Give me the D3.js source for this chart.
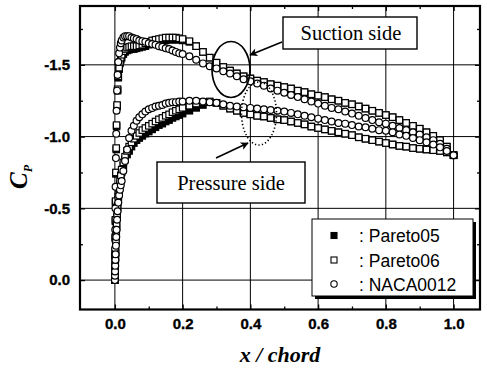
<!DOCTYPE html>
<html><head><meta charset="utf-8">
<script src="https://cdn.jsdelivr.net/npm/d3@7"></script>
<style>html,body{margin:0;padding:0;background:#fff;} svg{display:block;}
.ticklab{font-family:'Liberation Sans',Arial,sans-serif !important;font-weight:700 !important;font-size:15px !important;}</style>
</head><body><svg id="chart" width="487" height="368"></svg>
<script>
// ---------- DATA ----------
const xStations = [0, 0.0003, 0.0006, 0.001, 0.0015, 0.002, 0.003, 0.004, 0.005, 0.0065,
  0.008, 0.01, 0.0125, 0.015, 0.0175, 0.02, 0.025, 0.03, 0.036, 0.042,
  0.049, 0.056, 0.064, 0.072, 0.081, 0.09, 0.1, 0.11, 0.12, 0.13,
  0.14, 0.15, 0.16, 0.17, 0.18, 0.19, 0.2, 0.22, 0.24, 0.26,
  0.28, 0.3, 0.32, 0.34, 0.36, 0.38, 0.4, 0.42, 0.44, 0.46,
  0.48, 0.5, 0.52, 0.54, 0.56, 0.58, 0.6, 0.62, 0.64, 0.66,
  0.68, 0.7, 0.72, 0.74, 0.76, 0.78, 0.8, 0.82, 0.84, 0.86,
  0.88, 0.9, 0.92, 0.94, 0.96, 0.98, 1.0];

const pareto05Upper = [0, -0.08, -0.17, -0.29, -0.41, -0.54, -0.74, -0.91, -1.07, -1.21,
  -1.32, -1.41, -1.47, -1.51, -1.535, -1.55, -1.575, -1.59, -1.60, -1.605,
  -1.61, -1.61, -1.615, -1.62, -1.625, -1.63, -1.64, -1.65, -1.655, -1.66,
  -1.665, -1.67, -1.675, -1.675, -1.675, -1.675, -1.67, -1.66, -1.63, -1.59,
  -1.55, -1.515, -1.485, -1.46, -1.44, -1.42, -1.405, -1.39, -1.38, -1.365,
  -1.355, -1.345, -1.335, -1.32, -1.31, -1.295, -1.285, -1.275, -1.26, -1.25,
  -1.235, -1.225, -1.21, -1.195, -1.18, -1.165, -1.15, -1.135, -1.115, -1.095,
  -1.075, -1.055, -1.03, -1.005, -0.975, -0.93, -0.87];
const pareto05Lower = [0, -0.03, -0.06, -0.10, -0.15, -0.19, -0.26, -0.32, -0.37, -0.44,
  -0.50, -0.56, -0.62, -0.67, -0.71, -0.75, -0.80, -0.84, -0.875, -0.90,
  -0.93, -0.955, -0.975, -0.99, -1.005, -1.02, -1.035, -1.05, -1.065, -1.08,
  -1.09, -1.105, -1.115, -1.13, -1.14, -1.15, -1.16, -1.18, -1.20, -1.22,
  -1.24, -1.235, -1.215, -1.195, -1.18, -1.165, -1.155, -1.145, -1.14, -1.13,
  -1.12, -1.115, -1.105, -1.095, -1.085, -1.07, -1.06, -1.05, -1.04, -1.03,
  -1.02, -1.01, -0.995, -0.985, -0.975, -0.965, -0.955, -0.945, -0.935, -0.93,
  -0.92, -0.915, -0.91, -0.905, -0.90, -0.89, -0.87];

const pareto06Upper = [0, -0.08, -0.18, -0.30, -0.42, -0.55, -0.75, -0.92, -1.08, -1.22,
  -1.33, -1.42, -1.48, -1.52, -1.55, -1.57, -1.595, -1.61, -1.62, -1.625,
  -1.63, -1.63, -1.63, -1.635, -1.64, -1.65, -1.66, -1.67, -1.675, -1.68,
  -1.685, -1.69, -1.69, -1.69, -1.69, -1.685, -1.68, -1.665, -1.63, -1.59,
  -1.55, -1.515, -1.485, -1.46, -1.44, -1.42, -1.405, -1.39, -1.38, -1.365,
  -1.355, -1.345, -1.335, -1.32, -1.31, -1.295, -1.285, -1.275, -1.26, -1.25,
  -1.235, -1.225, -1.21, -1.195, -1.18, -1.165, -1.15, -1.135, -1.115, -1.095,
  -1.075, -1.055, -1.03, -1.005, -0.975, -0.93, -0.87];
const pareto06Lower = [0, -0.03, -0.07, -0.11, -0.16, -0.20, -0.27, -0.33, -0.39, -0.46,
  -0.52, -0.58, -0.64, -0.69, -0.73, -0.77, -0.82, -0.86, -0.90, -0.93,
  -0.96, -0.985, -1.005, -1.025, -1.045, -1.06, -1.075, -1.09, -1.105, -1.12,
  -1.13, -1.145, -1.155, -1.17, -1.18, -1.19, -1.20, -1.215, -1.23, -1.24,
  -1.245, -1.235, -1.215, -1.195, -1.18, -1.165, -1.155, -1.145, -1.14, -1.13,
  -1.12, -1.115, -1.105, -1.095, -1.085, -1.07, -1.06, -1.05, -1.04, -1.03,
  -1.02, -1.01, -0.995, -0.985, -0.975, -0.965, -0.955, -0.945, -0.935, -0.93,
  -0.92, -0.915, -0.91, -0.905, -0.90, -0.89, -0.87];

const naca0012Upper = [0, -0.10, -0.22, -0.35, -0.50, -0.65, -0.85, -1.02, -1.18, -1.32,
  -1.43, -1.52, -1.58, -1.62, -1.65, -1.67, -1.69, -1.70, -1.70, -1.70,
  -1.69, -1.685, -1.68, -1.67, -1.665, -1.66, -1.65, -1.645, -1.64, -1.63,
  -1.625, -1.615, -1.61, -1.60, -1.59, -1.58, -1.575, -1.56, -1.535, -1.51,
  -1.49, -1.475, -1.455, -1.44, -1.42, -1.40, -1.385, -1.37, -1.355, -1.335,
  -1.32, -1.305, -1.29, -1.275, -1.26, -1.245, -1.23, -1.215, -1.20, -1.19,
  -1.175, -1.16, -1.145, -1.13, -1.115, -1.10, -1.09, -1.075, -1.06, -1.045,
  -1.03, -1.015, -0.995, -0.975, -0.95, -0.915, -0.87];
const naca0012Lower = [0, -0.03, -0.06, -0.10, -0.14, -0.18, -0.24, -0.30, -0.35, -0.42,
  -0.48, -0.54, -0.59, -0.63, -0.66, -0.69, -0.76, -0.83, -0.91, -0.99,
  -1.04, -1.075, -1.11, -1.135, -1.155, -1.175, -1.19, -1.20, -1.21, -1.215,
  -1.22, -1.23, -1.235, -1.24, -1.24, -1.245, -1.245, -1.25, -1.25, -1.245,
  -1.24, -1.235, -1.225, -1.215, -1.21, -1.205, -1.20, -1.195, -1.19, -1.185,
  -1.18, -1.175, -1.165, -1.155, -1.145, -1.135, -1.125, -1.115, -1.105, -1.095,
  -1.09, -1.08, -1.07, -1.065, -1.055, -1.045, -1.04, -1.03, -1.015, -1.005,
  -0.99, -0.975, -0.96, -0.945, -0.925, -0.90, -0.87];

const seriesNames = ["Pareto05", "Pareto06", "NACA0012"];
const legendLabels = [": Pareto05", ": Pareto06", ": NACA0012"];
const xMajorTicks = [0, 0.2, 0.4, 0.6, 0.8, 1.0];
const xMinorTicks = [0.1, 0.3, 0.5, 0.7, 0.9];
const yMajorTicks = [0, -0.5, -1.0, -1.5];
const yMinorTicks = [-0.25, -0.75, -1.25, -1.75];
const xTitle = "x / chord";
const annotationSuction = "Suction side";
const annotationPressure = "Pressure side";

// ---------- CHART ----------
const svg = d3.select("#chart");
const L = 80, R = 480, T = 6, B = 309.5;
const x = d3.scaleLinear().domain([-0.103, 1.078]).range([L, R]);
const y = d3.scaleLinear().domain([0.205, -1.91]).range([B, T]);
const sans = "'Liberation Sans', Arial, Helvetica, sans-serif";
const serif = "'Liberation Serif', 'Times New Roman', Times, serif";
const fmt = d => d.toFixed(1); // plain hyphen-minus like the original

// arrow marker
const defs = svg.append("defs");
defs.append("marker").attr("id", "arr").attr("viewBox", "0 0 10 10")
  .attr("refX", 9).attr("refY", 5).attr("markerWidth", 11).attr("markerHeight", 8)
  .attr("markerUnits", "userSpaceOnUse").attr("orient", "auto")
  .append("path").attr("d", "M0,0 L10,5 L0,10 L2.5,5 Z").attr("fill", "#000");

// grid
const grid = svg.append("g");
grid.selectAll("line.gx").data(xMajorTicks).join("line")
  .attr("x1", d => x(d)).attr("x2", d => x(d)).attr("y1", T).attr("y2", B)
  .attr("stroke", "#000").attr("stroke-width", 1);
grid.selectAll("line.gy").data(yMajorTicks).join("line")
  .attr("y1", d => y(d)).attr("y2", d => y(d)).attr("x1", L).attr("x2", R)
  .attr("stroke", "#000").attr("stroke-width", 1);

// axes (ticks inward)
function styleAxis(g) {
  g.attr("font-family", null).attr("font-size", null);
  g.select(".domain").remove();
  g.selectAll(".tick line").attr("stroke", "#000").attr("stroke-width", 1.3);
  g.selectAll("text").attr("class", "ticklab").attr("fill", "#000")
    .attr("stroke", "#000").attr("stroke-width", 0.35);
}
svg.append("g").attr("transform", `translate(0,${B})`)
  .call(d3.axisBottom(x).tickValues(xMajorTicks).tickFormat(fmt)
    .tickSizeInner(-5).tickSizeOuter(0).tickPadding(9)).call(styleAxis);
svg.append("g").attr("transform", `translate(0,${B})`)
  .call(d3.axisBottom(x).tickValues(xMinorTicks).tickFormat("").tickSizeInner(-3).tickSizeOuter(0)).call(styleAxis);
svg.append("g").attr("transform", `translate(0,${T})`)
  .call(d3.axisTop(x).tickValues(xMajorTicks).tickFormat("").tickSizeInner(-5).tickSizeOuter(0)).call(styleAxis);
svg.append("g").attr("transform", `translate(0,${T})`)
  .call(d3.axisTop(x).tickValues(xMinorTicks).tickFormat("").tickSizeInner(-3).tickSizeOuter(0)).call(styleAxis);
svg.append("g").attr("transform", `translate(${L},0)`)
  .call(d3.axisLeft(y).tickValues(yMajorTicks).tickFormat(fmt)
    .tickSizeInner(-5).tickSizeOuter(0).tickPadding(10)).call(styleAxis);
svg.append("g").attr("transform", `translate(${L},0)`)
  .call(d3.axisLeft(y).tickValues(yMinorTicks).tickFormat("").tickSizeInner(-3).tickSizeOuter(0)).call(styleAxis);
svg.append("g").attr("transform", `translate(${R},0)`)
  .call(d3.axisRight(y).tickValues(yMajorTicks).tickFormat("").tickSizeInner(-5).tickSizeOuter(0)).call(styleAxis);
svg.append("g").attr("transform", `translate(${R},0)`)
  .call(d3.axisRight(y).tickValues(yMinorTicks).tickFormat("").tickSizeInner(-3).tickSizeOuter(0)).call(styleAxis);

// markers
const plot = svg.append("g");
function pts(arr) { return xStations.map((xv, i) => [xv, arr[i]]); }
const sq = 6.4;
function drawSquares(data, fill) {
  plot.append("g").selectAll("rect").data(data).join("rect")
    .attr("x", d => x(d[0]) - sq / 2).attr("y", d => y(d[1]) - sq / 2)
    .attr("width", sq).attr("height", sq)
    .attr("fill", fill).attr("stroke", "#000").attr("stroke-width", 1.2);
}
function drawCircles(data) {
  plot.append("g").selectAll("circle").data(data).join("circle")
    .attr("cx", d => x(d[0])).attr("cy", d => y(d[1])).attr("r", 3.4)
    .attr("fill", "#fff").attr("stroke", "#000").attr("stroke-width", 1.2);
}
drawSquares(pts(pareto05Upper), "#000");
drawSquares(pts(pareto05Lower), "#000");
drawSquares(pts(pareto06Upper), "#fff");
drawSquares(pts(pareto06Lower), "#fff");
drawCircles(pts(naca0012Upper));
drawCircles(pts(naca0012Lower));

// annotations
svg.append("ellipse").attr("cx", 231).attr("cy", 69.5).attr("rx", 19).attr("ry", 28)
  .attr("fill", "none").attr("stroke", "#000").attr("stroke-width", 1.7);
svg.append("ellipse").attr("cx", 259).attr("cy", 113.5).attr("rx", 17.5).attr("ry", 31.5)
  .attr("fill", "none").attr("stroke", "#000").attr("stroke-width", 1.6).attr("stroke-dasharray", "1.3,2.2");

svg.append("rect").attr("x", 283).attr("y", 17).attr("width", 134).attr("height", 32)
  .attr("fill", "#fff").attr("stroke", "#000").attr("stroke-width", 1.4);
svg.append("text").attr("x", 351).attr("y", 40).attr("text-anchor", "middle")
  .attr("font-family", serif).attr("font-size", 20.5).text(annotationSuction);
svg.append("line").attr("x1", 282).attr("y1", 42).attr("x2", 250).attr("y2", 55)
  .attr("stroke", "#000").attr("stroke-width", 1.6).attr("marker-end", "url(#arr)");

svg.append("rect").attr("x", 157).attr("y", 162).attr("width", 148).attr("height", 41)
  .attr("fill", "#fff").attr("stroke", "#000").attr("stroke-width", 1.4);
svg.append("text").attr("x", 231).attr("y", 190).attr("text-anchor", "middle")
  .attr("font-family", serif).attr("font-size", 20.5).text(annotationPressure);
svg.append("line").attr("x1", 216).attr("y1", 158).attr("x2", 248).attr("y2", 143)
  .attr("stroke", "#000").attr("stroke-width", 1.6).attr("marker-end", "url(#arr)");

// legend
const lg = svg.append("g");
lg.append("rect").attr("x", 315).attr("y", 222).attr("width", 161).attr("height", 77).attr("fill", "#000");
lg.append("rect").attr("x", 312).attr("y", 219).attr("width", 161).attr("height", 77)
  .attr("fill", "#fff").attr("stroke", "#000").attr("stroke-width", 1);
const legendRows = [235.5, 260, 284];
legendLabels.forEach((lab, i) => {
  const cy = legendRows[i];
  if (i < 2) {
    lg.append("rect").attr("x", 334 - 3).attr("y", cy - 3).attr("width", 6).attr("height", 6)
      .attr("fill", i === 0 ? "#000" : "#fff").attr("stroke", "#000").attr("stroke-width", 1.1);
  } else {
    lg.append("circle").attr("cx", 334).attr("cy", cy).attr("r", 3.2)
      .attr("fill", "#fff").attr("stroke", "#000").attr("stroke-width", 1.1);
  }
  lg.append("text").attr("x", 359).attr("y", cy + 6.5).attr("font-family", sans)
    .attr("font-size", 17.5).text(lab);
});

// frame
svg.append("rect").attr("x", L).attr("y", T).attr("width", R - L).attr("height", B - T)
  .attr("fill", "none").attr("stroke", "#000").attr("stroke-width", 2.2);

// axis titles
svg.append("text").attr("x", 280).attr("y", 362).attr("text-anchor", "middle")
  .attr("font-family", serif).attr("font-weight", "bold").attr("font-style", "italic")
  .attr("font-size", 22).text(xTitle);
const yt = svg.append("text").attr("transform", "translate(27,189) rotate(-90)")
  .attr("font-family", serif).attr("font-weight", "bold").attr("font-style", "italic")
  .attr("font-size", 25);
yt.append("tspan").text("C");
yt.append("tspan").attr("font-size", 12).attr("dy", 5).text("P");
</script></body></html>
